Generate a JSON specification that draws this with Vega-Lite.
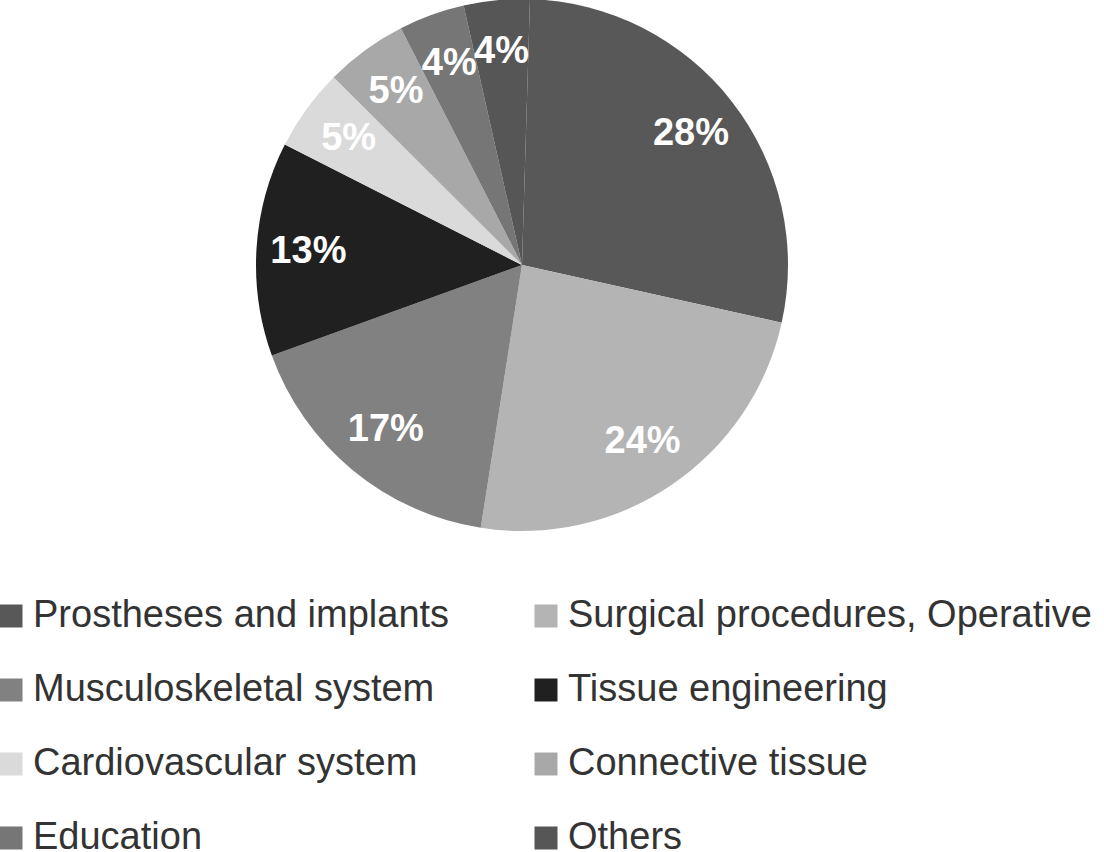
{
  "$schema": "https://vega.github.io/schema/vega-lite/v6.json",
  "width": 1044,
  "height": 530,
  "autosize": {"type": "none"},
  "padding": {"left": 0, "top": 0, "right": 60, "bottom": 322},
  "background": "white",
  "data": {
    "values": [
      {"idx": 1, "category": "Prostheses and implants", "share": 0.28},
      {"idx": 2, "category": "Surgical procedures, Operative", "share": 0.24},
      {"idx": 3, "category": "Musculoskeletal system", "share": 0.17},
      {"idx": 4, "category": "Tissue engineering", "share": 0.13},
      {"idx": 5, "category": "Cardiovascular system", "share": 0.05},
      {"idx": 6, "category": "Connective tissue", "share": 0.05},
      {"idx": 7, "category": "Education", "share": 0.04},
      {"idx": 8, "category": "Others", "share": 0.04}
    ]
  },
  "encoding": {
    "theta": {
      "field": "share",
      "type": "quantitative",
      "stack": true,
      "scale": {"range": [0.03, 6.3132]}
    },
    "order": {"field": "idx", "type": "quantitative"},
    "color": {
      "field": "category",
      "type": "nominal",
      "sort": null,
      "scale": {
        "domain": [
          "Prostheses and implants",
          "Surgical procedures, Operative",
          "Musculoskeletal system",
          "Tissue engineering",
          "Cardiovascular system",
          "Connective tissue",
          "Education",
          "Others"
        ],
        "range": ["#585858", "#b4b4b4", "#818181", "#202020", "#dadada", "#a8a8a8", "#767676", "#565656"]
      },
      "legend": {
        "title": null,
        "orient": "none",
        "legendX": -8,
        "legendY": 597,
        "padding": 0,
        "offset": 0,
        "direction": "horizontal",
        "columns": 2,
        "columnPadding": 77,
        "rowPadding": 36,
        "symbolType": "square",
        "symbolSize": 529,
        "symbolOffset": 0,
        "symbolStrokeWidth": 0,
        "labelOffset": 3,
        "labelFont": "Liberation Sans",
        "labelFontSize": 38,
        "labelColor": "#333333",
        "labelLimit": 700
      }
    }
  },
  "layer": [
    {
      "mark": {"type": "arc", "outerRadius": 266}
    },
    {
      "mark": {
        "type": "text",
        "radius": 214,
        "font": "Liberation Sans",
        "fontSize": 38,
        "fontWeight": "bold",
        "align": "center",
        "baseline": "middle",
        "fill": "white"
      },
      "encoding": {
        "text": {"field": "share", "type": "quantitative", "format": ".0%"},
        "color": {"value": "white"}
      }
    }
  ],
  "config": {
    "view": {"stroke": null}
  }
}
